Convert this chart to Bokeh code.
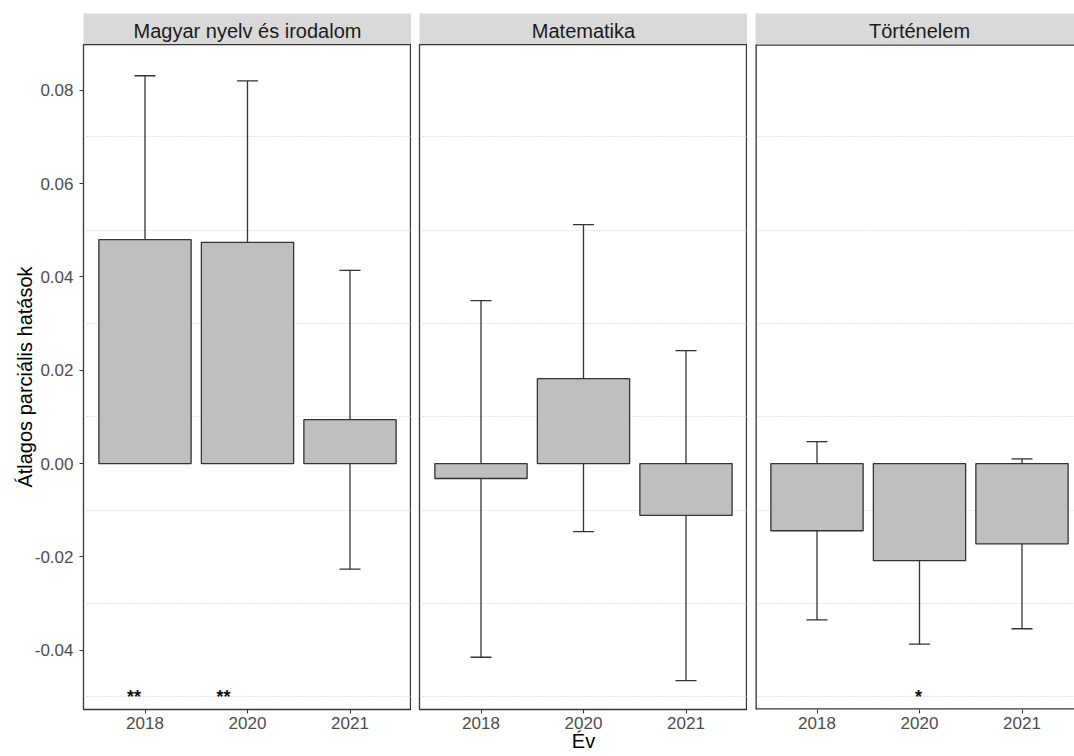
import numpy as np
from bokeh.plotting import figure
from bokeh.layouts import row, column
from bokeh.models import (ColumnDataSource, Range1d, FixedTicker, PrintfTickFormatter,
                          Whisker, TeeHead, Span)
from bokeh.core.properties import value
from bokeh.embed import file_html
from bokeh.resources import INLINE

# ---------------- data ----------------
years = ["2018", "2020", "2021"]
subjects = ["Magyar nyelv és irodalom", "Matematika", "Történelem"]

magyar_ame = [0.0480, 0.0474, 0.0094]
magyar_lo = [0.0124, 0.0129, -0.0226]
magyar_hi = [0.0831, 0.0820, 0.0414]
magyar_sig = ["**", "**", ""]

matek_ame = [-0.0032, 0.0182, -0.0111]
matek_lo = [-0.0415, -0.0146, -0.0465]
matek_hi = [0.0349, 0.0512, 0.0242]
matek_sig = ["", "", ""]

tort_ame = [-0.0144, -0.0208, -0.0172]
tort_lo = [-0.0335, -0.0387, -0.0354]
tort_hi = [0.0047, -0.0029, 0.0010]
tort_sig = ["", "*", ""]

star_y = -0.05
y_ticks = [-0.04, -0.02, 0.00, 0.02, 0.04, 0.06, 0.08]
y_minor = [-0.05, -0.03, -0.01, 0.01, 0.03, 0.05, 0.07]

# ---------------- style ----------------
FONT = "Liberation Sans"
BAR_FILL = "#BFBFBF"
DARK = "#333333"
TICK_TXT = "#4D4D4D"
STRIP_BG = "#D9D9D9"
PAGE_W = 1074
FRAME_W = 328
FRAME_H = 665
STRIP_H = 31
STRIP_TOP = 13
LEFT_W = 83
GAP = 8
LAST_W = PAGE_W - LEFT_W - 2 * FRAME_W - 2 * GAP  # visible part of the last panel
star_dx = [[-11, -24, 0], [0, 0, 0], [0, -1, 0]]

xs = list(range(1, len(years) + 1))
x_labels = {x: y for x, y in zip(xs, years)}
y_range = Range1d(-0.0527, 0.0898)

panels = [
    (subjects[0], magyar_ame, magyar_lo, magyar_hi, magyar_sig),
    (subjects[1], matek_ame, matek_lo, matek_hi, matek_sig),
    (subjects[2], tort_ame, tort_lo, tort_hi, tort_sig),
]

cols = []
n = len(panels)
for i, (subj, ame, lo, hi, sig) in enumerate(panels):
    first = i == 0
    last = i == n - 1
    lb = LEFT_W if first else GAP
    fw = LAST_W if last else FRAME_W
    x0, x1 = xs[0] - 0.6, xs[-1] + 0.6
    x_range = Range1d(x0, x0 + (x1 - x0) * fw / FRAME_W)

    src = ColumnDataSource(dict(x=xs, ame=ame, lo=lo, hi=hi, sig=sig,
                                sy=[star_y] * len(xs), dx=star_dx[i]))

    p = figure(x_range=x_range, y_range=y_range, frame_width=fw, frame_height=FRAME_H,
               output_backend="svg", toolbar_location=None,
               y_axis_location="left" if first else None,
               min_border_left=lb, min_border_right=0, min_border_top=0, min_border_bottom=0,
               background_fill_color="white", border_fill_color="white")

    p.vbar(x="x", top="ame", bottom=0, width=0.9, source=src,
           fill_color=BAR_FILL, line_color=DARK, line_width=1.3)

    wh = Whisker(source=src, base="x", upper="hi", lower="lo", dimension="height",
                 line_color=DARK, line_width=1.3,
                 upper_head=TeeHead(size=21, line_color=DARK, line_width=1.3),
                 lower_head=TeeHead(size=21, line_color=DARK, line_width=1.3))
    p.add_layout(wh)

    p.text(x="x", y="sy", text="sig", source=src, x_offset="dx",
           text_align="center", text_baseline="middle",
           text_font=value(FONT), text_font_size="18px", text_font_style="bold",
           text_color="#111111")

    # grid
    p.xgrid.visible = False
    p.ygrid.ticker = FixedTicker(ticks=y_ticks, minor_ticks=y_minor)
    p.ygrid.grid_line_color = None
    p.ygrid.minor_grid_line_color = "#CFCFCF"
    p.ygrid.minor_grid_line_dash = "1 2"
    p.ygrid.minor_grid_line_width = 1

    if last:
        # panel is cut by the image edge: border only on left, top and bottom
        # (spans sit on the frame edge and are half clipped, hence double width)
        p.outline_line_color = None
        for loc, dim in ((x_range.start, "height"), (y_range.start, "width"), (y_range.end, "width")):
            p.add_layout(Span(location=loc, dimension=dim, line_color=DARK, line_width=2.6))
    else:
        p.outline_line_color = DARK
        p.outline_line_width = 1.3

    # x axis
    xa = p.xaxis[0]
    xa.ticker = FixedTicker(ticks=xs)
    xa.major_label_overrides = x_labels
    xa.axis_line_color = None
    xa.major_tick_line_color = DARK
    xa.major_tick_out = 4
    xa.major_tick_in = 0
    xa.minor_tick_line_color = None
    xa.major_label_text_font = FONT
    xa.major_label_text_font_size = "17px"
    xa.major_label_text_color = TICK_TXT
    xa.major_label_standoff = 3
    if i == 1:
        xa.axis_label = "Év"
        xa.axis_label_text_font = FONT
        xa.axis_label_text_font_size = "20px"
        xa.axis_label_text_font_style = "normal"
        xa.axis_label_text_color = "black"
        xa.axis_label_standoff = -2

    if first:
        ya = p.yaxis[0]
        ya.ticker = FixedTicker(ticks=y_ticks)
        ya.formatter = PrintfTickFormatter(format="%.2f")
        ya.axis_line_color = None
        ya.major_tick_line_color = DARK
        ya.major_tick_out = 4
        ya.major_tick_in = 0
        ya.minor_tick_line_color = None
        ya.major_label_text_font = FONT
        ya.major_label_text_font_size = "17px"
        ya.major_label_text_color = TICK_TXT
        ya.major_label_standoff = 6
        ya.axis_label = "Átlagos parciális hatások"
        ya.axis_label_text_font = FONT
        ya.axis_label_text_font_size = "20px"
        ya.axis_label_text_font_style = "normal"
        ya.axis_label_text_color = "black"
        ya.axis_label_standoff = -4

    # strip
    s = figure(x_range=x_range, y_range=Range1d(0, 1), frame_width=fw, frame_height=STRIP_H,
               output_backend="svg", toolbar_location=None,
               x_axis_location=None, y_axis_location=None,
               min_border_left=lb, min_border_right=0, min_border_top=STRIP_TOP, min_border_bottom=0,
               background_fill_color=STRIP_BG, border_fill_color="white")
    s.outline_line_color = None
    s.xgrid.visible = False
    s.ygrid.visible = False
    s.text(x=[float(np.mean(xs))], y=[0.5], text=[subj], text_align="center",
           text_baseline="middle", y_offset=2,
           text_font=value(FONT), text_font_size="20px", text_color="#1A1A1A")

    cols.append(column(s, p, spacing=0))

layout = row(*cols, spacing=0)

open("out.html", "w").write(file_html(layout, INLINE))
